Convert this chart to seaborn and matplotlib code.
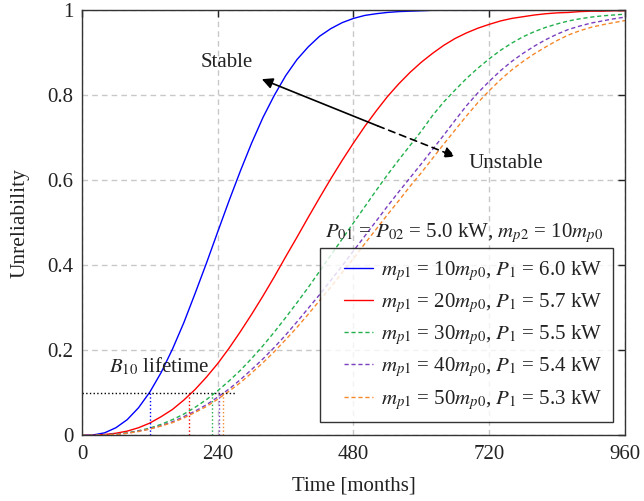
import matplotlib
matplotlib.use("Agg")
import matplotlib.pyplot as plt
from matplotlib.legend_handler import HandlerLine2D
from matplotlib.lines import Line2D
import seaborn as sns
import pandas as pd

# ---------------- data ----------------
time_months = [0, 20, 40, 60, 80, 100, 120, 140, 160, 180, 200, 220, 240, 260, 280, 300,
               320, 340, 360, 380, 400, 420, 440, 460, 480, 500, 520, 540, 560, 580, 600,
               620, 640, 660, 680, 700, 720, 740, 760, 780, 800, 820, 840, 860, 880, 900,
               920, 940, 960]

unrel_mp10 = [0, 0.001, 0.006, 0.018, 0.037, 0.065, 0.102, 0.148, 0.203, 0.265, 0.334, 0.405,
              0.479, 0.552, 0.622, 0.688, 0.748, 0.800, 0.846, 0.884, 0.914, 0.939, 0.957,
              0.971, 0.981, 0.988, 0.992, 0.995, 0.997, 0.998, 0.999, 1, 1, 1, 1, 1, 1, 1, 1,
              1, 1, 1, 1, 1, 1, 1, 1, 1, 1]
unrel_mp20 = [0, 0.000, 0.002, 0.005, 0.010, 0.018, 0.029, 0.044, 0.061, 0.083, 0.108, 0.137,
              0.169, 0.205, 0.244, 0.285, 0.328, 0.373, 0.420, 0.466, 0.513, 0.559, 0.604,
              0.647, 0.688, 0.727, 0.763, 0.797, 0.827, 0.854, 0.878, 0.899, 0.918, 0.934,
              0.947, 0.958, 0.967, 0.975, 0.981, 0.985, 0.989, 0.992, 0.994, 0.995, 0.997,
              0.998, 0.998, 0.999, 0.999]
unrel_mp30 = [0, 0.000, 0.001, 0.003, 0.006, 0.011, 0.017, 0.026, 0.037, 0.050, 0.066, 0.084,
              0.105, 0.128, 0.153, 0.181, 0.211, 0.243, 0.277, 0.312, 0.348, 0.386, 0.424,
              0.462, 0.500, 0.538, 0.576, 0.613, 0.648, 0.682, 0.716, 0.753, 0.785, 0.813,
              0.840, 0.864, 0.886, 0.906, 0.923, 0.938, 0.950, 0.960, 0.968, 0.975, 0.980,
              0.984, 0.987, 0.989, 0.991]
unrel_mp40 = [0, 0.000, 0.001, 0.003, 0.005, 0.010, 0.015, 0.023, 0.032, 0.044, 0.057, 0.072,
              0.090, 0.109, 0.131, 0.155, 0.180, 0.207, 0.236, 0.267, 0.299, 0.331, 0.365,
              0.399, 0.434, 0.469, 0.504, 0.539, 0.573, 0.606, 0.639, 0.673, 0.707, 0.742,
              0.776, 0.806, 0.833, 0.858, 0.880, 0.899, 0.916, 0.931, 0.944, 0.955, 0.963,
              0.970, 0.975, 0.980, 0.984]
unrel_mp50 = [0, 0.000, 0.001, 0.002, 0.005, 0.009, 0.015, 0.022, 0.030, 0.041, 0.054, 0.068,
              0.085, 0.104, 0.124, 0.147, 0.171, 0.197, 0.225, 0.254, 0.285, 0.317, 0.349,
              0.383, 0.416, 0.451, 0.485, 0.519, 0.552, 0.586, 0.618, 0.652, 0.686, 0.719,
              0.752, 0.783, 0.811, 0.837, 0.860, 0.880, 0.898, 0.914, 0.929, 0.942, 0.952,
              0.960, 0.966, 0.971, 0.976]

series_labels = [
    r"$m_{p1}$ = 10$m_{p0}$, $P_1$ = 6.0 kW",
    r"$m_{p1}$ = 20$m_{p0}$, $P_1$ = 5.7 kW",
    r"$m_{p1}$ = 30$m_{p0}$, $P_1$ = 5.5 kW",
    r"$m_{p1}$ = 40$m_{p0}$, $P_1$ = 5.4 kW",
    r"$m_{p1}$ = 50$m_{p0}$, $P_1$ = 5.3 kW",
]
series_values = [unrel_mp10, unrel_mp20, unrel_mp30, unrel_mp40, unrel_mp50]

b10_level = 0.1
b10_lifetimes = [121, 189, 229, 242, 249]
b10_line_end = 271

x_ticks = [0, 240, 480, 720, 960]
y_ticks = [0, 0.2, 0.4, 0.6, 0.8, 1.0]
y_ticklabels = ["0", "0.2", "0.4", "0.6", "0.8", "1"]

# ---------------- style ----------------
colors = ["#0000ff", "#ff0000", "#22b04c", "#7b3fbf", "#f5882a"]
styles = ["-", "-", (0, (3, 2)), (0, (3, 2)), (0, (3, 2))]
FS = 15

sns.set_theme(style="white")
plt.rcParams["font.family"] = ["Liberation Serif", "DejaVu Serif"]
plt.rcParams["mathtext.fontset"] = "stix"
plt.rcParams["font.size"] = FS

fig = plt.figure(figsize=(6.44, 5.01), dpi=100)
ax = fig.add_axes([0.1273, 0.131, 0.9705 - 0.1273, 0.9794 - 0.131])

frames = []
for lab, vals in zip(series_labels, series_values):
    frames.append(pd.DataFrame({"Time": time_months, "Unrel": vals, "series": lab}))
df = pd.concat(frames, ignore_index=True)

for lab, col, ls in zip(series_labels, colors, styles):
    sub = df[df["series"] == lab]
    sns.lineplot(data=sub, x="Time", y="Unrel", ax=ax, color=col, linestyle=ls,
                 linewidth=1.0, label=lab, legend=False)

# B10 markers
ax.plot([0, b10_line_end], [b10_level, b10_level], color="black", linestyle=":", lw=1.0)
for xv, col in zip(b10_lifetimes, colors):
    ax.plot([xv, xv], [0, b10_level], color=col, linestyle=":", lw=1.0)

ax.set_xlim(0, 960)
ax.set_ylim(0, 1)
ax.set_xticks(x_ticks)
ax.set_yticks(y_ticks)
ax.set_yticklabels(y_ticklabels)
ax.tick_params(direction="in", length=5, width=1, top=True, right=True,
               labelsize=FS, colors="#222222")
ax.tick_params(axis="x", pad=7)
ax.tick_params(axis="y", pad=6)
ax.grid(True, color="#c8c8c8", linestyle=(0, (4, 3)), linewidth=1.0)
for sp in ax.spines.values():
    sp.set_color("#333333")
    sp.set_linewidth(1.0)

ax.set_xlabel("Time [months]", fontsize=FS, color="#222222", labelpad=9)
ax.set_ylabel("Unreliability", fontsize=FS + 0.5, color="#222222", labelpad=13)

# annotations
ax.text(256, 0.877, "Stable", ha="center", va="center", fontsize=FS, color="#222222")
ax.text(750, 0.639, "Unstable", ha="center", va="center", fontsize=FS, color="#222222")
ax.annotate("", xy=(318, 0.838), xytext=(523, 0.728),
            arrowprops=dict(arrowstyle="-|>", color="black", lw=1.2, mutation_scale=16,
                            shrinkA=0, shrinkB=0))
ax.annotate("", xy=(660, 0.656), xytext=(523, 0.728),
            arrowprops=dict(arrowstyle="-|>", color="black", lw=1.2, mutation_scale=16,
                            linestyle=(0, (4, 3)), shrinkA=0, shrinkB=0))
ax.text(136, 0.161, r"$B_{10}$ lifetime", ha="center", va="center", fontsize=FS, color="#222222")
ax.text(675, 0.476, r"$P_{01}$ = $P_{02}$ = 5.0 kW, $m_{p2}$ = 10$m_{p0}$",
        ha="center", va="center", fontsize=FS, color="#222222")

handles, labels = ax.get_legend_handles_labels()
hmap = {Line2D: HandlerLine2D(xpad=0.65)}
leg = ax.legend(handles, labels, loc="upper left", bbox_to_anchor=(0.438, 0.44),
                borderaxespad=0, frameon=True, fancybox=False, fontsize=FS,
                handlelength=2.05, labelspacing=0.4, borderpad=0.5, handletextpad=0.4,
                handler_map=hmap)
leg.get_frame().set_edgecolor("black")
leg.get_frame().set_linewidth(1.0)
for t in leg.get_texts():
    t.set_color("#222222")

fig.savefig("out.png", dpi=100)
